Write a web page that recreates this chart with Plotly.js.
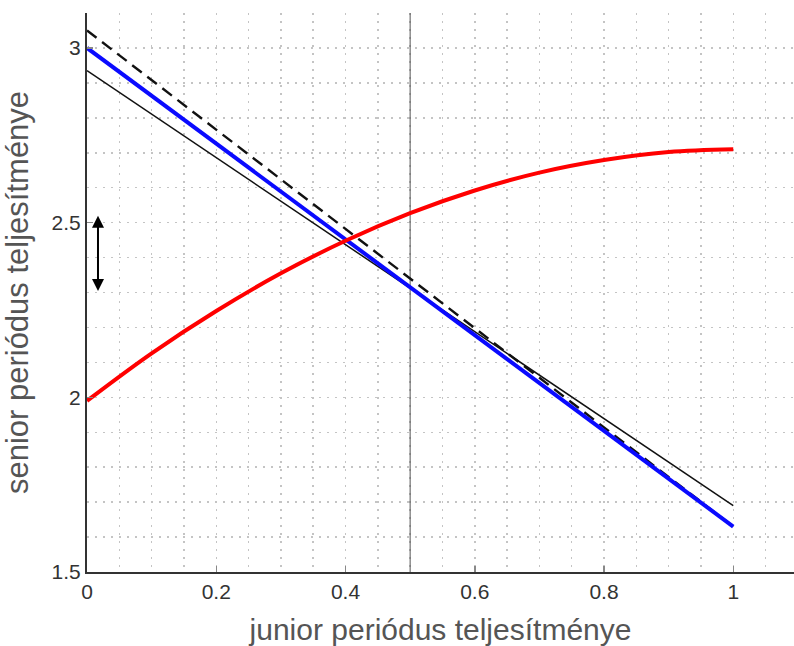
<!DOCTYPE html>
<html>
<head>
<meta charset="utf-8">
<script src="https://cdn.plot.ly/plotly-3.0.1.min.js"></script>
<style>html,body{margin:0;padding:0;background:#fff;}#chart{width:794px;height:646px;}</style>
</head>
<body>
<div id="chart"></div>
<script>
// x values (junior period performance)
const xLine = [0, 1];
const blueY = [3.0, 1.63];
const dashedY = [3.05, 1.63];
const thinY = [2.935, 1.69];
const redX = [0, 0.1, 0.2, 0.3, 0.4, 0.5, 0.6, 0.7, 0.8, 0.9, 1.0];
const redY = [1.99, 2.126, 2.247, 2.355, 2.448, 2.527, 2.592, 2.643, 2.679, 2.702, 2.71];
const vLineX = [0.5, 0.5];
const vLineY = [1.5, 3.1];
const arrowX = 0.017;
const arrowY = [2.30, 2.52];
const xTicks = [0, 0.2, 0.4, 0.6, 0.8, 1];
const xTickText = ['0', '0.2', '0.4', '0.6', '0.8', '1'];
const yTicks = [1.5, 2, 2.5, 3];
const yTickText = ['1.5', '2', '2.5', '3'];

const traces = [
  {x: vLineX, y: vLineY, mode: 'lines', line: {color: '#555', width: 1}, hoverinfo: 'skip'},
  {x: xLine, y: thinY, mode: 'lines', line: {color: '#111', width: 1.5}},
  {x: xLine, y: dashedY, mode: 'lines', line: {color: '#111', width: 2.4, dash: '12px,7px'}},
  {x: xLine, y: blueY, mode: 'lines', line: {color: '#0a0aff', width: 4}},
  {x: redX, y: redY, mode: 'lines', line: {color: '#ff0000', width: 4, shape: 'spline'}}
];

const ff = 'Liberation Sans, Arial, sans-serif';
const gridStyle = {gridcolor: '#c4c4c4', griddash: '2px,6px', gridwidth: 1.5};
const layout = {
  width: 794, height: 646,
  margin: {l: 87, r: 0, t: 13, b: 74},
  showlegend: false,
  paper_bgcolor: '#fff', plot_bgcolor: '#fff',
  font: {family: ff, size: 21, color: '#333'},
  xaxis: Object.assign({
    range: [0, 1.094], tickvals: xTicks, ticktext: xTickText,
    ticks: 'inside', ticklen: 6, tickcolor: '#888', tickwidth: 1.5,
    showline: true, linecolor: '#333', linewidth: 2,
    showgrid: true,
    minor: Object.assign({dtick: 0.05, tick0: 0, showgrid: true, ticks: ''}, gridStyle),
    zeroline: false,
    tickfont: {size: 21, color: '#333', family: ff},
    title: {text: 'junior periódus teljesítménye', font: {size: 30, color: '#555', family: ff}, standoff: 18}
  }, gridStyle),
  yaxis: Object.assign({
    range: [1.5, 3.1], tickvals: yTicks, ticktext: yTickText,
    ticks: 'inside', ticklen: 6, tickcolor: '#888', tickwidth: 1.5,
    showline: true, linecolor: '#333', linewidth: 2,
    showgrid: true,
    minor: Object.assign({dtick: 0.1, tick0: 1.5, showgrid: true, ticks: ''}, gridStyle),
    zeroline: false,
    tickfont: {size: 21, color: '#333', family: ff},
    title: {text: 'senior periódus teljesítménye', font: {size: 31, color: '#555', family: ff}, standoff: 14}
  }, gridStyle),
  annotations: [
    {x: arrowX, y: arrowY[1], ax: arrowX, ay: arrowY[0], xref: 'x', yref: 'y', axref: 'x', ayref: 'y',
     showarrow: true, arrowhead: 2, startarrowhead: 2, arrowside: 'end+start', arrowsize: 1.2, arrowwidth: 2, arrowcolor: '#000', text: ''}
  ]
};

Plotly.newPlot('chart', traces, layout, {displayModeBar: false, staticPlot: true});
</script>
</body>
</html>
